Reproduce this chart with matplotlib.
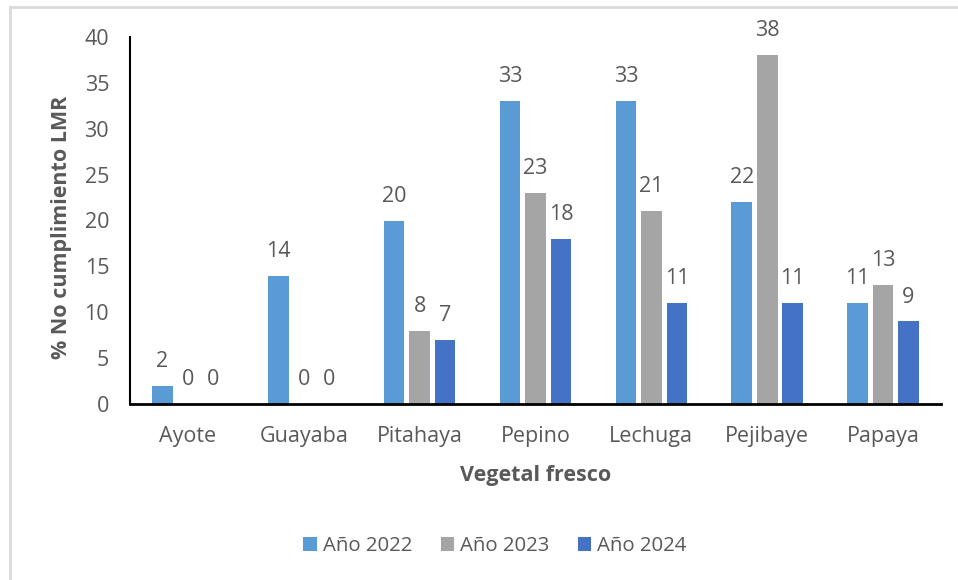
import matplotlib
matplotlib.use("Agg")
import matplotlib.pyplot as plt
from matplotlib.lines import Line2D
import numpy as np

plt.rcParams['font.family'] = ['Open Sans', 'DejaVu Sans']

categories = ["Ayote", "Guayaba", "Pitahaya", "Pepino", "Lechuga", "Pejibaye", "Papaya"]
series_names = ["Año 2022", "Año 2023", "Año 2024"]
v2022 = [2, 14, 20, 33, 33, 22, 11]
v2023 = [0, 0, 8, 23, 21, 38, 13]
v2024 = [0, 0, 7, 18, 11, 11, 9]
colors = ["#5B9BD5", "#A5A5A5", "#4472C4"]

fig = plt.figure(figsize=(9.58, 5.8), dpi=100)
ax = fig.add_axes([130/958, 1-404/580, (941-130)/958, (404-37)/580])

x = np.arange(len(categories))
width = 0.178
pitch = 0.22
text_color = "#595959"
fs = 15.5
for i, (vals, col, name) in enumerate(zip([v2022, v2023, v2024], colors, series_names)):
    pos = x + (i - 1) * pitch
    ax.bar(pos, vals, width=width, color=col, label=name, zorder=2)
    for p, v in zip(pos, vals):
        ax.annotate(str(v), (p, v), xytext=(0, 10), textcoords="offset points",
                    ha="center", va="bottom", fontsize=fs, color=text_color)

ax.set_xlim(-0.5, len(categories) - 0.5)
ax.set_ylim(0, 40)
ax.set_yticks(range(0, 41, 5))
ax.set_xticks(x)
ax.set_xticklabels(categories)
ax.tick_params(axis='both', length=0, labelsize=fs, labelcolor=text_color)
ax.tick_params(axis='y', pad=15)
ax.tick_params(axis='x', pad=16)
for s in ["top", "right"]:
    ax.spines[s].set_visible(False)
ax.spines["left"].set_color("black")
ax.spines["left"].set_linewidth(1.5)
ax.spines["bottom"].set_color("black")
ax.spines["bottom"].set_linewidth(2)

ax.set_ylabel("% No cumplimiento LMR", fontsize=15.5, fontweight="bold", color=text_color)
ax.yaxis.set_label_coords((62-130)/811, 0.48)
ax.set_xlabel("Vegetal fresco", fontsize=15.5, fontweight="bold", color=text_color)
ax.xaxis.set_label_coords(0.5, (404-476)/367)
ax.xaxis.label.set_va("center")
ax.yaxis.label.set_va("center")

leg = fig.legend(loc="center", bbox_to_anchor=(495/958, 1-546/580), ncol=3, frameon=False,
                 fontsize=14.7, handlelength=0.65, handleheight=0.65, handletextpad=0.3,
                 columnspacing=1.4)
for t in leg.get_texts():
    t.set_color(text_color)

# chart area border (left and top visible)
fig.add_artist(Line2D([10/958, 10/958], [0, 1-7/580], transform=fig.transFigure, color="#D9D9D9", lw=2))
fig.add_artist(Line2D([10/958, 1], [1-7/580, 1-7/580], transform=fig.transFigure, color="#D9D9D9", lw=2))

fig.savefig("out.png", dpi=100)
